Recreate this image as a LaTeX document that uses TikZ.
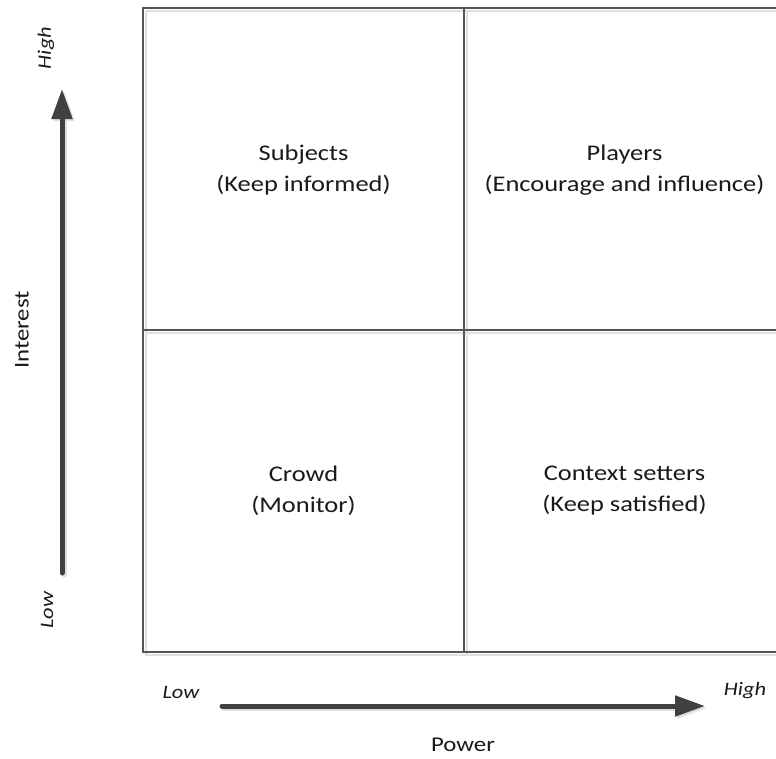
\documentclass[tikz,border=0pt]{standalone}
\usepackage{fontspec}
\setmainfont{Carlito}[FakeStretch=1.18]
\usetikzlibrary{arrows.meta}
\definecolor{gridc}{HTML}{555555}
\definecolor{arrc}{HTML}{404040}
\definecolor{txtc}{HTML}{1A1A1A}
\tikzset{
  quadtext/.style={align=center, text=txtc, font=\fontsize{22.4}{31}\selectfont, inner sep=0pt},
  axistext/.style={text=txtc, font=\fontsize{21}{25}\selectfont, inner sep=0pt},
  endtext/.style={text=txtc, font=\fontsize{19}{23}\selectfont\itshape, inner sep=0pt},
  gridline/.style={draw=gridc, line width=1.5pt},
  gridshadow/.style={draw=black!12, line width=1.5pt},
  axisarrow/.style={draw=arrc, line width=5pt, line cap=round, -{Triangle[length=30pt,width=20pt]}},
  axisshadow/.style={draw=black!12, line width=5pt, line cap=round, -{Triangle[length=30pt,width=20pt]}}
}
\begin{document}
\begin{tikzpicture}[x=1pt,y=-1pt]
\useasboundingbox (0,0) rectangle (776,758);
\clip (0,0) rectangle (776,758);
\fill[white] (0,0) rectangle (776,758);
% grid shadow
\draw[gridshadow] (146,11) -- (146,655) -- (790,655);
\draw[gridshadow] (467,11) -- (467,655);
\draw[gridshadow] (146,333) -- (790,333);
\draw[gridshadow] (146,11) -- (790,11);
% grid
\coordinate (tl) at (143,8);
\coordinate (tr) at (790,8);
\coordinate (bl) at (143,652);
\coordinate (br) at (790,652);
\coordinate (tm) at (464,8);
\coordinate (bm) at (464,652);
\coordinate (lm) at (143,330);
\coordinate (rm) at (790,330);
\draw[gridline] (tr) -- (tl) -- (bl) -- (br);
\draw[gridline] (tm) -- (bm);
\draw[gridline] (lm) -- (rm);
% quadrant texts
\node[quadtext] (subj) at (303.5,170.5) {Subjects\\(Keep informed)};
\node[quadtext] (play) at (624.5,170.5) {Players\\(Encourage and influence)};
\node[quadtext] (crowd) at (303.5,490.5) {Crowd\\(Monitor)};
\node[quadtext] (ctx) at (624.5,490.5) {Context setters\\(Keep satisfied)};
% vertical axis
\coordinate (vs) at (62,573);
\coordinate (ve) at (62,89);
\coordinate (vss) at (64,575);
\coordinate (ves) at (64,91);
\draw[axisshadow] (vss) -- (ves);
\draw[axisarrow] (vs) -- (ve);
\node[endtext, rotate=90] (vhigh) at (46,48) {High};
\node[endtext, rotate=90] (vlow) at (47,610) {Low};
\node[axistext, rotate=90] (interest) at (22,330) {Interest};
% horizontal axis
\coordinate (hs) at (222,706);
\coordinate (he) at (705,706);
\coordinate (hss) at (224,708);
\coordinate (hes) at (707,708);
\draw[axisshadow] (hss) -- (hes);
\draw[axisarrow] (hs) -- (he);
\node[endtext] (hlow) at (181,692) {Low};
\node[endtext] (hhigh) at (745,691) {High};
\node[axistext] (power) at (463,745) {Power};
\end{tikzpicture}
\end{document}
